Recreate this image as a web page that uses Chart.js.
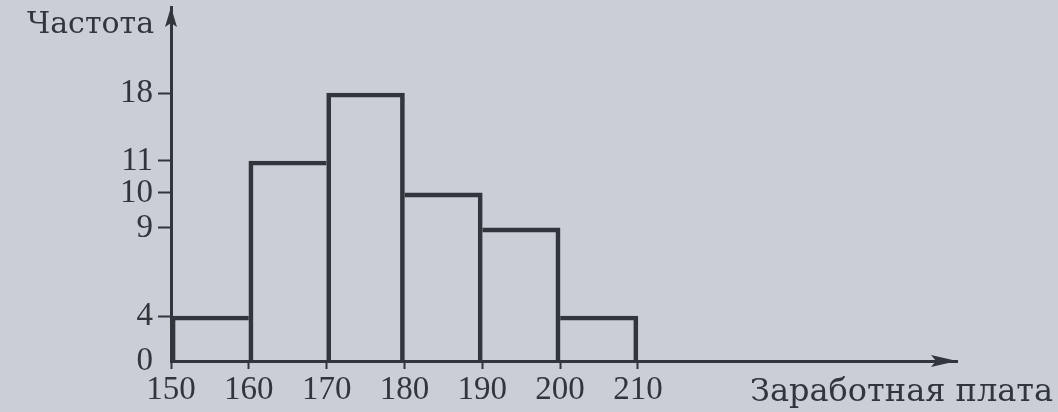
<!DOCTYPE html>
<html>
<head>
<meta charset="utf-8">
<script src="https://cdn.jsdelivr.net/npm/chart.js@4.4.1/dist/chart.umd.min.js"></script>
<style>
  html, body { margin: 0; padding: 0; background: #cbced6; }
  canvas { display: block; }
</style>
</head>
<body>
<canvas id="hist" width="1058" height="412"></canvas>
<script>
// salary intervals (lower bounds) and how many employees fall in each
const binStarts = [150, 160, 170, 180, 190, 200];
const binWidth = 10;
const frequencies = [4, 11, 18, 10, 9, 4];

const xTickValues = [150, 160, 170, 180, 190, 200, 210];
const yTickValues = [0, 4, 9, 10, 11, 18];
const xAxisMax = 251;
const yAxisMax = 25;

// the book draws the y axis unevenly: where each tick sits along it (0 = bottom, 1 = top)
const yTickSpots = [0, 0.127, 0.376, 0.475, 0.565, 0.757];

const ink = '#33353d';
const serif = "'Liberation Serif', 'Times New Roman', serif";
const wideSerif = "'DejaVu Serif', serif";
const edge = 4;

const stops = yTickValues.concat([yAxisMax]);
const spots = yTickSpots.concat([1]);

function toDecimal(v) {
  for (let i = 1; i < stops.length; i++) {
    if (v <= stops[i] || i === stops.length - 1) {
      const t = (v - stops[i - 1]) / (stops[i] - stops[i - 1]);
      return spots[i - 1] + t * (spots[i] - spots[i - 1]);
    }
  }
  return 1;
}

function fromDecimal(d) {
  for (let i = 1; i < spots.length; i++) {
    if (d <= spots[i] || i === spots.length - 1) {
      const t = (d - spots[i - 1]) / (spots[i] - spots[i - 1]);
      return stops[i - 1] + t * (stops[i] - stops[i - 1]);
    }
  }
  return yAxisMax;
}

// linear scale, but piecewise between the ticks like in the textbook figure
class BookScale extends Chart.LinearScale {
  getPixelForValue(value) {
    if (value === null || isNaN(value)) return NaN;
    return this.getPixelForDecimal(toDecimal(value));
  }
  getValueForPixel(pixel) {
    return fromDecimal(this.getDecimalForPixel(pixel));
  }
}
BookScale.id = 'book';
BookScale.defaults = Chart.LinearScale.defaults;
Chart.register(BookScale);

const axisArrows = {
  id: 'axisArrows',
  afterDraw(chart) {
    const { ctx, chartArea: a } = chart;
    ctx.save();
    ctx.fillStyle = ink;
    // x axis arrow
    ctx.beginPath();
    ctx.moveTo(a.right, a.bottom);
    ctx.lineTo(a.right - 26, a.bottom - 6);
    ctx.lineTo(a.right - 21, a.bottom);
    ctx.lineTo(a.right - 26, a.bottom + 6);
    ctx.closePath();
    ctx.fill();
    // y axis arrow
    ctx.beginPath();
    ctx.moveTo(a.left, a.top);
    ctx.lineTo(a.left - 6, a.top + 20);
    ctx.lineTo(a.left, a.top + 16);
    ctx.lineTo(a.left + 6, a.top + 20);
    ctx.closePath();
    ctx.fill();
    ctx.restore();
  }
};

const axisNames = {
  id: 'axisNames',
  afterDraw(chart) {
    const { ctx } = chart;
    ctx.save();
    ctx.fillStyle = ink;
    ctx.textBaseline = 'alphabetic';
    ctx.textAlign = 'left';
    ctx.font = '30px ' + wideSerif;
    ctx.fillText('Частота', 27, 33);
    ctx.font = '32px ' + wideSerif;
    ctx.fillText('Заработная плата', 750, 401);
    ctx.restore();
  }
};

// the taller of two neighbouring bars carries the shared side, so every side is one line
function sides(c) {
  const i = c.dataIndex;
  const h = frequencies[i];
  const prev = i > 0 ? frequencies[i - 1] : -1;
  const next = i < frequencies.length - 1 ? frequencies[i + 1] : -1;
  return {
    top: edge,
    left: h > prev ? edge : 0,
    right: h >= next ? edge : 0,
    bottom: 0
  };
}

new Chart(document.getElementById('hist'), {
  type: 'bar',
  data: {
    datasets: [{
      data: binStarts.map((s, i) => ({ x: s + binWidth / 2, y: frequencies[i] })),
      backgroundColor: 'transparent',
      borderColor: ink,
      borderSkipped: 'bottom',
      borderWidth: sides,
      barPercentage: 1,
      categoryPercentage: 1
    }]
  },
  options: {
    responsive: false,
    animation: false,
    devicePixelRatio: 1,
    layout: { padding: { top: 7, right: 101, left: 0, bottom: 0 } },
    plugins: { legend: { display: false }, tooltip: { enabled: false } },
    scales: {
      x: {
        type: 'linear',
        min: 150,
        max: xAxisMax,
        offset: false,
        afterBuildTicks: (s) => { s.ticks = xTickValues.map(v => ({ value: v })); },
        afterFit: (s) => { s.height = 51; s.paddingLeft = 0; s.paddingRight = 0; },
        grid: { offset: false, drawOnChartArea: false, drawTicks: true, tickLength: 8, tickColor: ink, tickWidth: 2 },
        border: { display: true, color: ink, width: 3 },
        ticks: { autoSkip: false, maxRotation: 0, padding: 2, color: ink, font: { family: serif, size: 33 } }
      },
      y: {
        type: 'book',
        min: 0,
        max: yAxisMax,
        afterBuildTicks: (s) => { s.ticks = yTickValues.map(v => ({ value: v })); },
        afterFit: (s) => { s.width = 171; s.paddingTop = 0; s.paddingBottom = 0; },
        grid: {
          drawOnChartArea: false,
          drawTicks: true,
          tickLength: 13,
          tickWidth: 2,
          tickColor: (c) => (c.tick && c.tick.value === 0 ? 'transparent' : ink)
        },
        border: { display: true, color: ink, width: 3 },
        ticks: { autoSkip: false, padding: 5, color: ink, font: { family: serif, size: 33 } }
      }
    }
  },
  plugins: [axisArrows, axisNames]
});
</script>
</body>
</html>
